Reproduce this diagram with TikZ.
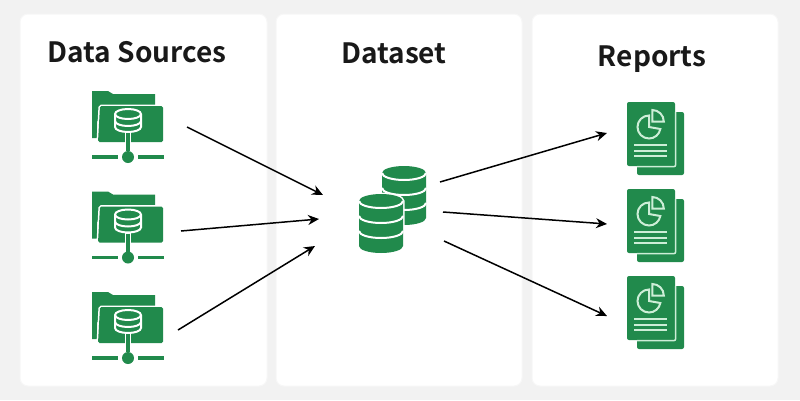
\documentclass[tikz,border=0pt]{standalone}
\usepackage{fontspec}
\setmainfont{Noto Sans CJK SC}[BoldFont={Noto Sans CJK SC Bold}]
\usepackage{xcolor}
\usetikzlibrary{arrows.meta}
\definecolor{dsgreen}{RGB}{33,138,76}
\definecolor{dsmint}{RGB}{205,238,215}
\definecolor{dspage}{RGB}{242,242,242}

\begin{document}
\begin{tikzpicture}[
    x=1pt, y=-1pt,
    card/.style={fill=white, draw=white!97!black, line width=1pt, rounded corners=8pt},
    heading/.style={font=\fontsize{28}{32}\selectfont\bfseries, anchor=base, text=black!90},
    arrow/.style={-{Stealth[length=11pt,width=10pt]}, line width=1.5pt, black},
    ink/.style={fill=dsgreen, preaction={draw=white, line width=3pt}},
    cutout/.style={draw=white, line width=2pt},
    mintline/.style={draw=dsmint, line width=2pt},
    foldericon/.pic={
        % folder back and front
        \fill[dsgreen] (0,0) -- (16,0) -- (21,3) -- (63,3) -- (63,30) -- (5,30) -- (5,47) -- (0,47) -- cycle;
        \path[ink, rounded corners=1.5pt] (8,15) -- (71,15) -- (71,51) -- (6,51) -- cycle;
        % small cylinder
        \draw[white, line width=6pt] (36,41) -- (36,60);
        \draw[dsgreen, line width=3.5pt] (36,42) -- (36,60);
        \path[fill=dsgreen, cutout] (23,23) arc[start angle=180, end angle=360, x radius=13, y radius=5]
            -- (49,36) arc[start angle=0, end angle=180, x radius=13, y radius=5] -- cycle;
        \draw[cutout] (23,23) arc[start angle=180, end angle=0, x radius=13, y radius=5];
        \draw[cutout] (23,30) arc[start angle=180, end angle=0, x radius=13, y radius=5];
        % network line
        \fill[dsgreen] (36,66) circle[radius=6];
        \draw[dsgreen, line width=3.5pt] (0,66) -- (26,66);
        \draw[dsgreen, line width=3.5pt] (46,66) -- (72,66);
    },
    stackicon/.pic={
        \path[ink] (-22,7) arc[start angle=180, end angle=360, x radius=22, y radius=7]
            -- (22,52) arc[start angle=0, end angle=180, x radius=22, y radius=7] -- cycle;
        \draw[white, line width=2pt] (-22,7) arc[start angle=180, end angle=0, x radius=22, y radius=7];
        \draw[white, line width=2pt] (-22,22) arc[start angle=180, end angle=0, x radius=22, y radius=7];
        \draw[white, line width=2pt] (-22,37) arc[start angle=180, end angle=0, x radius=22, y radius=7];
    },
    reporticon/.pic={
        \fill[dsgreen, rounded corners=2pt] (10,10) rectangle (57,73);
        \fill[dsgreen, rounded corners=2pt] (0,0) rectangle (48,64);
        \draw[dsmint, line width=1.5pt, rounded corners=2pt] (48.7,10) -- (48.7,64.7) -- (10,64.7);
        % pie chart
        \draw[mintline] (22,13.5) arc[start angle=270, end angle=10, radius=11.5] -- (22,25) -- cycle;
        \draw[mintline] (25.3,8) arc[start angle=270, end angle=360, radius=11.5] -- (25.3,19.5) -- cycle;
        % text lines
        \draw[mintline] (7,43) -- (40,43);
        \draw[mintline] (7,48.5) -- (40,48.5);
        \draw[mintline] (7,54) -- (40,54);
    }
]

% Page
\fill[dspage] (0,0) rectangle (800,400);
\useasboundingbox (0,0) rectangle (800,400);

% Cards
\path[card] (20,14) rectangle (267,386);
\path[card] (276,14) rectangle (522,386);
\path[card] (532,14) rectangle (778,386);

% Headings
\node[heading] (sourcestitle) at (137,62) {Data Sources};
\node[heading] (datasettitle) at (394,63) {Dataset};
\node[heading] (reportstitle) at (652,66) {Reports};

% Data sources
\pic at (92,91) {foldericon};
\pic at (92,191.5) {foldericon};
\pic at (92,292) {foldericon};

% Dataset
\pic at (404,166) {stackicon};
\pic at (381,194) {stackicon};

% Reports
\pic at (627,102) {reporticon};
\pic at (627,189) {reporticon};
\pic at (627,276) {reporticon};

% Arrow ends
\coordinate (source1) at (187,127);
\coordinate (source2) at (181,231);
\coordinate (source3) at (178,330);
\coordinate (datasetin1) at (323,195);
\coordinate (datasetin2) at (319,219);
\coordinate (datasetin3) at (315,246);
\coordinate (datasetout1) at (440,182);
\coordinate (datasetout2) at (443,212);
\coordinate (datasetout3) at (444,241);
\coordinate (report1) at (607,133);
\coordinate (report2) at (607,224);
\coordinate (report3) at (607,316);

% Arrows
\draw[arrow] (source1) -- (datasetin1);
\draw[arrow] (source2) -- (datasetin2);
\draw[arrow] (source3) -- (datasetin3);
\draw[arrow] (datasetout1) -- (report1);
\draw[arrow] (datasetout2) -- (report2);
\draw[arrow] (datasetout3) -- (report3);

\end{tikzpicture}
\end{document}
